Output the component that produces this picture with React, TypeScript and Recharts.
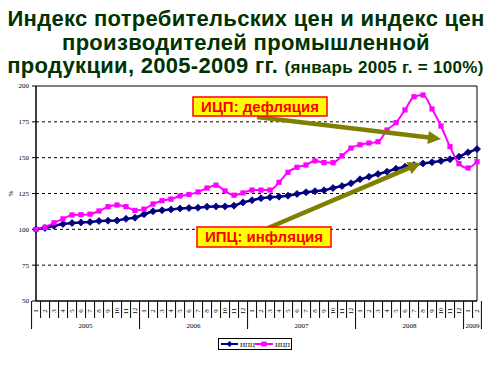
import React from 'react';
import { LineChart, Line, XAxis, YAxis, ReferenceLine, ReferenceArea, Label } from 'recharts';

const W = 493;
const H = 365;
const MARGIN = { top: 86, right: 16, bottom: 34, left: 6 };
const Y_AXIS_W = 30;
const X_AXIS_H = 30;

const years = [2005, 2006, 2007, 2008, 2009];
const monthsInYear = [12, 12, 12, 12, 2];

// ИПЦ – индекс потребительских цен
const cpi = [
  100, 101, 102.5, 103.7, 104.4, 104.8, 105.1, 105.8, 106, 106.1, 107.3, 108.1,
  110.5, 112.6, 113.3, 113.9, 114.6, 114.9, 115.1, 115.8, 116, 116, 116.5, 118.8,
  120.3, 121.7, 122.4, 122.8, 123.5, 124.7, 125.9, 126.6, 127.2, 128.8, 130.2, 132.1,
  134.9, 136.7, 138.6, 140.2, 142.3, 143.7, 144.9, 146, 146.8, 147.7, 148.9, 150.7,
  153.7, 156,
];

// ИЦП – индекс цен производителей промышленной продукции
const ppi = [
  100, 101.4, 104.6, 107.3, 110, 110.2, 110.6, 112.8, 115.8, 117, 115.8, 113.2,
  114.1, 117.7, 120, 121.1, 123.3, 124.3, 126.1, 128.8, 130.8, 126.8, 123.8, 125.4,
  127.4, 127.4, 127.4, 132.8, 139.8, 143.3, 144.9, 147.8, 146.6, 146.5, 151.3, 156.7,
  159, 160.2, 161.1, 169.3, 174.4, 183.3, 192.5, 193.7, 184, 172.1, 157.7, 145.8,
  142.8, 147.2,
];

const yTicks = [50, 75, 100, 125, 150, 175, 200];
const gridValues = [75, 100, 125, 150, 175];
const seriesNames = { cpi: 'ИПЦ', ppi: 'ИЦП' };
const titleLines = [
  'Индекс потребительских цен и индекс цен',
  'производителей промышленной',
  'продукции, 2005-2009 гг. ',
];
const titleNote = '(январь 2005 г. = 100%)';
const notes = { ppi: 'ИЦП: дефляция', cpi: 'ИПЦ: инфляция' };

type Row = { key: string; year: number; month: number; count: number; cpi: number; ppi: number };
const data: Row[] = [];
{
  let k = 0;
  years.forEach((yr, yi) => {
    for (let m = 1; m <= monthsInYear[yi]; m++) {
      data.push({ key: `${yr}-${m}`, year: yr, month: m, count: monthsInYear[yi], cpi: cpi[k], ppi: ppi[k] });
      k++;
    }
  });
}

const BAND = (W - MARGIN.left - MARGIN.right - Y_AXIS_W) / data.length;
const SMALL_FONT = 'Liberation Serif, Times New Roman, serif';
const BOLD_FONT = 'Liberation Sans, Arial, sans-serif';

function MonthTick(props: any) {
  const { x, y, payload } = props;
  const idx = data.findIndex((d) => d.key === payload.value);
  if (idx < 0) return <g />;
  const d = data[idx];
  const hb = BAND / 2;
  const left = x - hb;
  const right = x + hb;
  const isStart = d.month === 1;
  const isLast = idx === data.length - 1;
  return (
    <g>
      <line x1={left} x2={left} y1={y} y2={y + (isStart ? 28 : 17)} stroke="#000" strokeWidth={1} />
      {isLast && <line x1={right} x2={right} y1={y} y2={y + 28} stroke="#000" strokeWidth={1} />}
      <text
        transform={`translate(${x},${y + 10}) rotate(-90)`}
        textAnchor="middle"
        dy="0.33em"
        fontSize={7}
        fontFamily={SMALL_FONT}
        fill="#000"
      >
        {d.month}
      </text>
      {d.month === Math.floor(d.count / 2) && (
        <text x={right} y={y + 27} textAnchor="middle" fontSize={7} fontFamily={SMALL_FONT} fill="#000">
          {d.year}
        </text>
      )}
    </g>
  );
}

function diamondDot(props: any) {
  const { cx, cy, index } = props;
  if (cx == null || cy == null) return <g key={`d${index}`} />;
  const s = 3.5;
  return (
    <path
      key={`d${index}`}
      d={`M${cx},${cy - s} L${cx + s},${cy} L${cx},${cy + s} L${cx - s},${cy} Z`}
      fill="#000080"
      stroke="#000080"
      strokeWidth={0.8}
    />
  );
}

function squareDot(props: any) {
  const { cx, cy, index } = props;
  if (cx == null || cy == null) return <g key={`s${index}`} />;
  const s = 2.6;
  return <rect key={`s${index}`} x={cx - s} y={cy - s} width={2 * s} height={2 * s} fill="#FF00FF" />;
}

function Arrow({ x1, y1, x2, y2 }: { x1: number; y1: number; x2: number; y2: number }) {
  const dx = x2 - x1;
  const dy = y2 - y1;
  const len = Math.hypot(dx, dy);
  const ux = dx / len;
  const uy = dy / len;
  const hl = 13;
  const hw = 6.5;
  const bx = x2 - ux * hl;
  const by = y2 - uy * hl;
  const px = -uy;
  const py = ux;
  return (
    <g>
      <line x1={x1} y1={y1} x2={bx + ux * 1} y2={by + uy * 1} stroke="#808000" strokeWidth={4.5} />
      <polygon
        points={`${x2},${y2} ${bx + px * hw},${by + py * hw} ${bx - px * hw},${by - py * hw}`}
        fill="#808000"
      />
    </g>
  );
}

function NoteBox({ x, y, w, h, text }: { x: number; y: number; w: number; h: number; text: string }) {
  return (
    <g>
      <rect x={x} y={y} width={w} height={h} fill="#FFFF00" stroke="#FF0000" strokeWidth={1.5} />
      <text
        x={x + w / 2}
        y={y + h / 2 + 5}
        textAnchor="middle"
        fontSize={15}
        fontWeight="bold"
        fontFamily={BOLD_FONT}
        fill="#FF0000"
      >
        {text}
      </text>
    </g>
  );
}

export default function App() {
  return (
    <div style={{ position: 'absolute', left: 0, top: 0, width: W, height: H, background: '#fff' }}>
      <LineChart width={W} height={H} data={data} margin={MARGIN}>
        <ReferenceArea y1={50} y2={200} fill="none" stroke="#000" strokeWidth={1} ifOverflow="visible" />
        {gridValues.map((v) => (
          <ReferenceLine key={v} y={v} stroke="#000" strokeDasharray="3 3" strokeWidth={1} />
        ))}
        <XAxis
          dataKey="key"
          type="category"
          interval={0}
          height={X_AXIS_H}
          tickSize={0}
          tickMargin={0}
          tickLine={false}
          axisLine={{ stroke: '#000' }}
          tick={<MonthTick />}
        />
        <YAxis
          domain={[50, 200]}
          ticks={yTicks}
          interval={0}
          width={Y_AXIS_W}
          tickSize={4}
          tickMargin={3}
          axisLine={{ stroke: '#000' }}
          tickLine={{ stroke: '#000' }}
          tick={{ fontSize: 7, fill: '#000', fontFamily: SMALL_FONT }}
        >
          <Label
            content={(p: any) => {
              const vb = p.viewBox || { x: 6, y: 86, height: 215 };
              const cx = vb.x + 5;
              const cy = vb.y + vb.height / 2;
              return (
                <text
                  transform={`translate(${cx},${cy}) rotate(-90)`}
                  textAnchor="middle"
                  dy="0.33em"
                  fontSize={7}
                  fontFamily={SMALL_FONT}
                  fill="#000"
                >
                  %
                </text>
              );
            }}
          />
        </YAxis>
        <Line
          dataKey="cpi"
          name={seriesNames.cpi}
          stroke="#000080"
          strokeWidth={2.5}
          type="linear"
          dot={diamondDot}
          activeDot={false}
          isAnimationActive={false}
        />
        <Line
          dataKey="ppi"
          name={seriesNames.ppi}
          stroke="#FF00FF"
          strokeWidth={2}
          type="monotone"
          dot={squareDot}
          activeDot={false}
          isAnimationActive={false}
        />
      </LineChart>
      <svg
        width={W}
        height={H}
        style={{ position: 'absolute', left: 0, top: 0, pointerEvents: 'none' }}
      >
        <g fontFamily={BOLD_FONT} fontWeight="bold" fill="#003300" textAnchor="middle">
          <text x={246} y={26} fontSize={22} letterSpacing={0.3}>
            {titleLines[0]}
          </text>
          <text x={246} y={49.5} fontSize={22} letterSpacing={0.3}>
            {titleLines[1]}
          </text>
          <text x={245.5} y={72.5} letterSpacing={0.3}>
            <tspan fontSize={22}>{titleLines[2]}</tspan>
            <tspan fontSize={17}>{titleNote}</tspan>
          </text>
        </g>
        <Arrow x1={257} y1={117} x2={441} y2={139} />
        <Arrow x1={268} y1={228} x2={421} y2={163} />
        <NoteBox x={193} y={97} w={134} h={19} text={notes.ppi} />
        <NoteBox x={197} y={227} w={134} h={20} text={notes.cpi} />
        <g>
          <rect x={218.5} y={338.5} width={73} height={11} fill="#fff" stroke="#000" strokeWidth={1} />
          <line x1={221} x2={238} y1={344} y2={344} stroke="#000080" strokeWidth={2} />
          <path d="M229.5,341 L232.5,344 L229.5,347 L226.5,344 Z" fill="#000080" />
          <text x={240} y={346.5} fontSize={7} fontFamily={SMALL_FONT} fill="#000">
            {seriesNames.cpi}
          </text>
          <line x1={255} x2={273} y1={344} y2={344} stroke="#FF00FF" strokeWidth={2} />
          <rect x={261.5} y={341.5} width={5} height={5} fill="#FF00FF" />
          <text x={275} y={346.5} fontSize={7} fontFamily={SMALL_FONT} fill="#000">
            {seriesNames.ppi}
          </text>
        </g>
      </svg>
    </div>
  );
}
